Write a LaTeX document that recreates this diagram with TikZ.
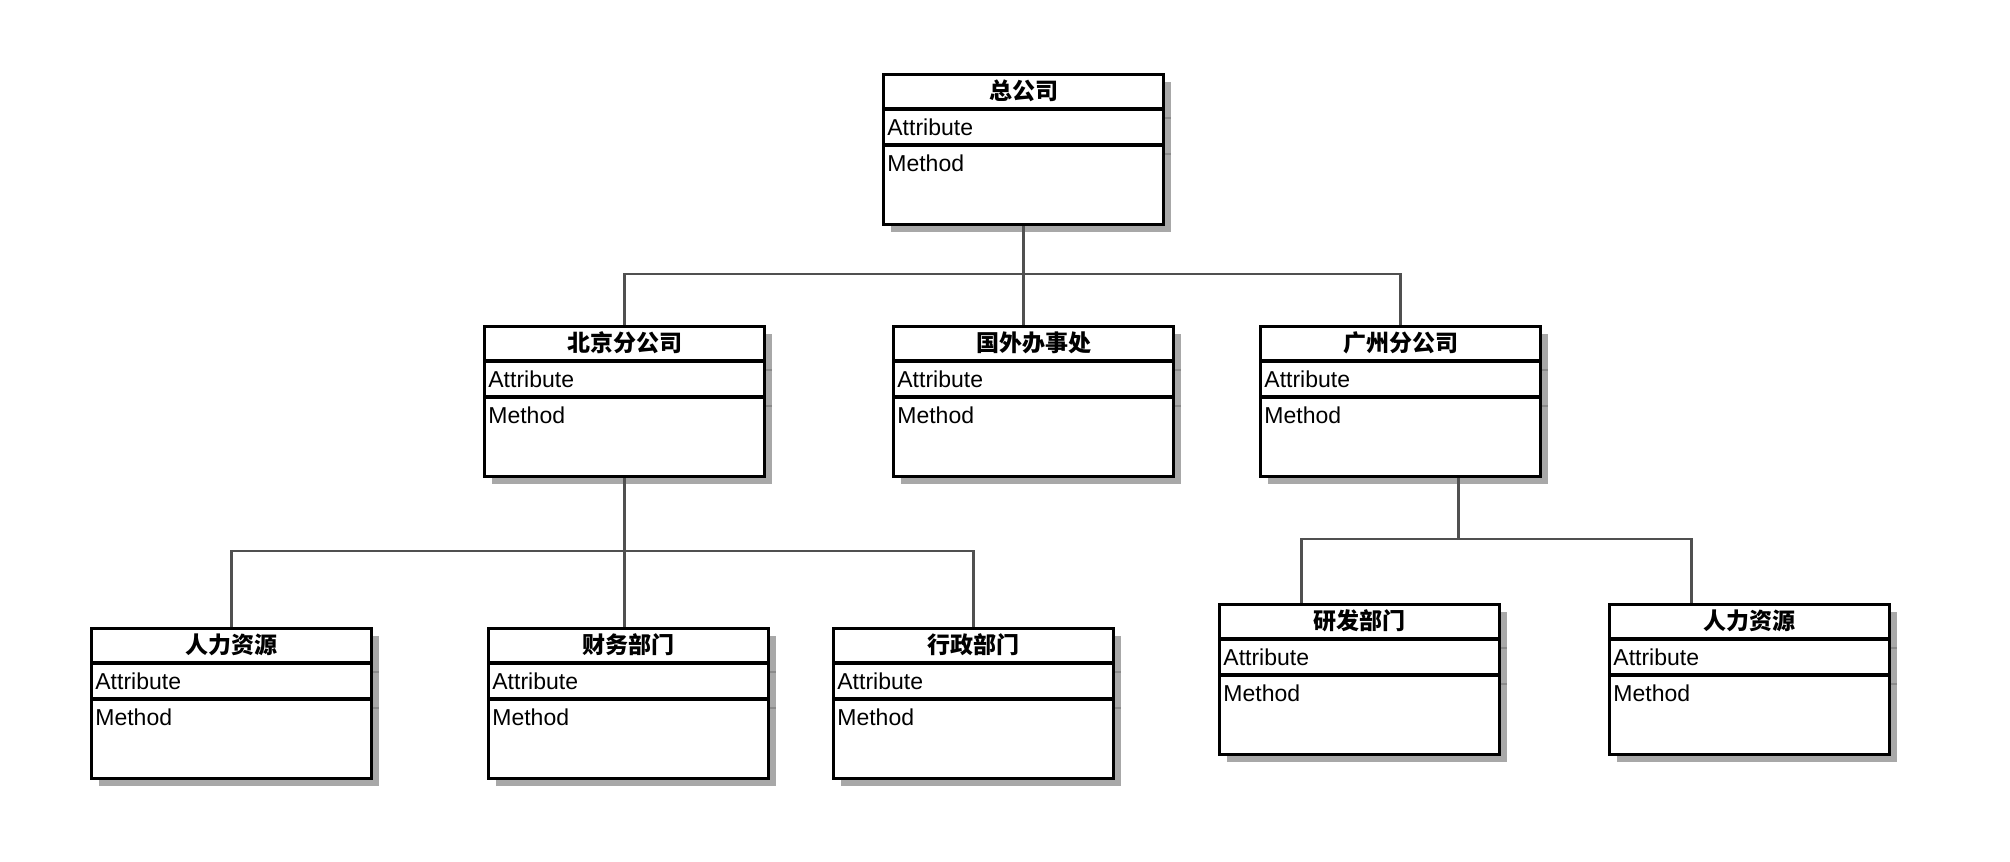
\documentclass[tikz,border=0pt]{standalone}
\usepackage{fontspec}
\setmainfont{Liberation Sans}
\newfontfamily\cjk{Noto Sans CJK SC}
\usetikzlibrary{calc}
\definecolor{shadowc}{RGB}{168,168,168}
\definecolor{tickc}{RGB}{138,138,138}
\definecolor{connc}{RGB}{80,80,80}
\tikzset{
  classbox/.style={draw=black, line width=1.6pt, fill=white, minimum width=140pt, minimum height=75pt, inner sep=0pt, anchor=north west},
  divider/.style={black, line width=1.6pt},
  shadowbox/.style={fill=shadowc},
  shadowtick/.style={draw=tickc, line width=1pt},
  titletext/.style={font=\cjk\bfseries\fontsize{11.5pt}{13pt}\selectfont, inner sep=0pt},
  membertext/.style={font=\fontsize{11.5pt}{13pt}\selectfont, inner sep=0pt, anchor=base west},
  conn/.style={draw=connc, line width=1.2pt},
}
\newcommand\umlclass[4]{%
  \fill[shadowbox] (#2+9,#3+9) rectangle (#2+289,#3+159);
  \draw[shadowtick] (#2+9,#3+45) -- (#2+289,#3+45);
  \draw[shadowtick] (#2+9,#3+81) -- (#2+289,#3+81);
  \node[classbox] (#1) at (#2,#3) {};
  \draw[divider] ($(#1.north west)+(0,36)$) -- ($(#1.north east)+(0,36)$);
  \draw[divider] ($(#1.north west)+(0,72)$) -- ($(#1.north east)+(0,72)$);
  \node[titletext] (#1-t) at ($(#1.north)+(0,18)$) {#4};
  \node[membertext] (#1-a) at ($(#1.north west)+(5,62)$) {Attribute};
  \node[membertext] (#1-m) at ($(#1.north west)+(5,98)$) {Method};
}
\begin{document}
\begin{tikzpicture}[x=0.5pt, y=-0.5pt]
\useasboundingbox[fill=white] (0,0) rectangle (2010,862);
\umlclass{zong}{882}{73}{总公司}
\umlclass{bj}{483}{325}{北京分公司}
\umlclass{gw}{892}{325}{国外办事处}
\umlclass{gz}{1259}{325}{广州分公司}
\umlclass{rl1}{90}{627}{人力资源}
\umlclass{cw}{487}{627}{财务部门}
\umlclass{xz}{832}{627}{行政部门}
\umlclass{yf}{1218}{603}{研发部门}
\umlclass{rl2}{1608}{603}{人力资源}
% level 1 -> level 2
\coordinate (bus1) at (0,274);
\draw[conn] (zong.south) -- (zong.south |- gw.north);
\draw[conn] (bj.north) |- (gz.north |- bus1) -- (gz.north);
% beijing -> departments
\coordinate (bus2) at (0,551);
\draw[conn] (bj.south) -- (bj.south |- cw.north);
\draw[conn] (rl1.north) |- (xz.north |- bus2) -- (xz.north);
% guangzhou -> departments
\coordinate (bus3) at (0,539);
\coordinate (gzdrop) at ($(gz.south)+(58,0)$);
\coordinate (yfin) at ($(yf.north)+(-58,0)$);
\coordinate (rl2in) at ($(rl2.north)+(-58,0)$);
\draw[conn] (gzdrop) -- (gzdrop |- bus3);
\draw[conn] (yfin) |- (rl2in |- bus3) -- (rl2in);
\end{tikzpicture}
\end{document}
